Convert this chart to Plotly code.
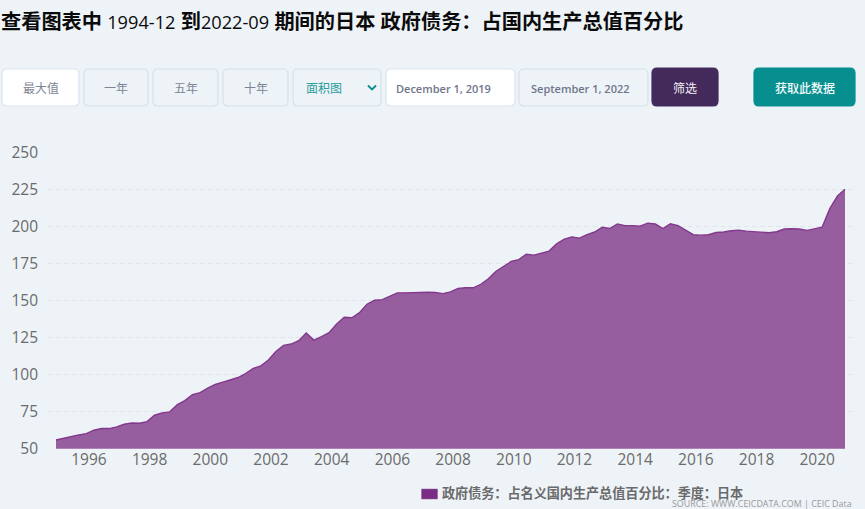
import pandas as pd
import plotly.graph_objects as go

W, H = 865, 509
BG = "#eef3f8"

values = [
    55.9, 57.0, 58.6, 59.3, 60.2, 62.5, 63.6, 63.6, 64.7, 66.5,
    67.4, 67.2, 68.3, 72.6, 74.2, 74.9, 79.8, 82.5, 86.6, 87.9,
    90.9, 93.4, 95.0, 96.3, 98.1, 100.8, 104.2, 106.0, 109.9, 115.7,
    119.8, 120.7, 123.0, 128.2, 123.4, 125.7, 128.4, 134.3, 138.8, 138.5,
    141.9, 147.6, 150.3, 150.7, 153.2, 155.3, 155.3, 155.5, 156.0, 155.7,
    155.5, 154.8, 156.0, 158.2, 158.7, 158.7, 161.1, 164.8, 169.9, 173.3,
    176.5, 177.8, 181.4, 180.8, 182.1, 183.5, 188.5, 191.6, 193.0, 192.3,
    194.6, 196.4, 199.7, 198.8, 201.9, 200.7, 200.7, 200.4, 202.4, 201.8,
    198.8, 202.0, 200.7, 197.7, 194.6, 194.3, 194.6, 196.1, 196.4, 197.3,
    197.7, 197.0, 196.8, 196.4, 195.9, 196.6, 198.4, 198.6, 198.4, 197.5,
    198.4, 199.7, 212.2, 220.7, 225.3,
]
dates = pd.date_range("1994-12-01", periods=len(values), freq="3MS")
y_ticks = [50, 75, 100, 125, 150, 175, 200, 225, 250]
series_name = "政府债务：占名义国内生产总值百分比：季度：日本"
LAT = '<span style="font-size:18.2px">'
title_html = (f"<b>查看图表中</b> {LAT}1994-12</span> <b>到</b>{LAT}2022-09</span> "
              "<b>期间的日本 政府债务：占国内生产总值百分比</b>")
source_text = "SOURCE: WWW.CEICDATA.COM | CEIC Data"

CJK = "Open Sans, Noto Sans CJK SC, sans-serif"


def px(x):
    return x / W


def py(y):
    return 1 - y / H


def rounded(x0, y0, x1, y1, r=5):
    X0, X1, Y0, Y1 = px(x0), px(x1), py(y0), py(y1)
    rx, ry = r / W, r / H
    return (
        f"M {X0+rx},{Y0} L {X1-rx},{Y0} Q {X1},{Y0} {X1},{Y0-ry} "
        f"L {X1},{Y1+ry} Q {X1},{Y1} {X1-rx},{Y1} L {X0+rx},{Y1} "
        f"Q {X0},{Y1} {X0},{Y1+ry} L {X0},{Y0-ry} Q {X0},{Y0} {X0+rx},{Y0} Z"
    )


# label, x0, x1, y0, y1, fill, border, text colour, text centre x, size, weight
controls = [
    ("最大值", 2, 79, 69, 106, "#ffffff", "#d9e5ee", "#7d8594", 40.5, 12, 400),
    ("一年", 84, 148, 69, 106, BG, "#d5e2ea", "#7d8594", 116.5, 12, 400),
    ("五年", 153, 218, 69, 106, BG, "#d5e2ea", "#7d8594", 186, 12, 400),
    ("十年", 223, 288, 69, 106, BG, "#d5e2ea", "#7d8594", 256, 12, 400),
    ("面积图", 293, 381, 69, 106, BG, "#d5e2ea", "#2a9c9c", 324, 12, 400),
    ("December 1, 2019", 386, 515, 69, 106, "#ffffff", "#d9e5ee", "#6f768a", 444, 11, 600),
    ("September 1, 2022", 519, 648, 69, 106, BG, "#d5e2ea", "#6f768a", 580, 11, 600),
    ("筛选", 652, 718, 68, 106, "#432a5b", "#432a5b", "#f2eef6", 685, 12, 400),
    ("获取此数据", 754, 855, 68, 106, "#078e8f", "#078e8f", "#f2fafa", 804.5, 12, 500),
]

shapes, annotations = [], []
for label, x0, x1, y0, y1, fill, border, tc, cx, size, weight in controls:
    shapes.append(dict(type="path", path=rounded(x0, y0, x1, y1), xref="paper", yref="paper",
                       fillcolor=fill, line=dict(color=border, width=1.2), layer="below"))
    annotations.append(dict(text=label, x=px(cx), y=py(88.5), xref="paper", yref="paper",
                            xanchor="center", yanchor="middle", showarrow=False,
                            font=dict(family=CJK, size=size, color=tc, weight=weight)))

# dropdown chevron
shapes.append(dict(type="path", xref="paper", yref="paper",
                   path=f"M {px(368)},{py(85.5)} L {px(372)},{py(89.5)} L {px(376)},{py(85.5)}",
                   line=dict(color="#078e8f", width=1.8)))
# legend swatch
shapes.append(dict(type="rect", xref="paper", yref="paper",
                   x0=px(421.5), x1=px(437.5), y0=py(499), y1=py(489),
                   fillcolor="#7b2d85", line=dict(color="#8f5a98", width=0.5)))
annotations.append(dict(text=f"<b>{series_name}</b>", x=px(439.5), y=py(493), xref="paper", yref="paper",
                        xanchor="left", yanchor="middle", showarrow=False,
                        font=dict(family=CJK, size=13.1, color="#6a6a6a")))
annotations.append(dict(text=source_text, x=px(854), y=py(503), xref="paper", yref="paper",
                        xanchor="right", yanchor="middle", showarrow=False,
                        font=dict(family=CJK, size=8.9, color="#999999")))

fig = go.Figure(go.Scatter(
    x=dates, y=values, mode="lines", name=series_name, fill="tozeroy",
    fillcolor="rgba(124,50,131,0.77)", line=dict(color="#84388c", width=1.4),
    showlegend=False, hoverinfo="x+y",
))

fig.update_layout(
    template=None,
    width=W, height=H, autosize=False,
    margin=dict(l=0, r=0, t=0, b=0, pad=0),
    paper_bgcolor=BG, plot_bgcolor=BG,
    title=dict(text=title_html, x=px(1), y=py(22), xref="paper", yref="paper",
               xanchor="left", yanchor="middle",
               font=dict(family=CJK, size=20.2, color="#0b0b0b")),
    shapes=shapes, annotations=annotations,
    xaxis=dict(type="date", domain=[px(48), px(853)], automargin=False,
               range=["1994-08-27", "2021-03-07"],
               tick0="1996-01-01", dtick="M24", tickformat="%Y",
               showgrid=False, zeroline=False, showline=False, ticks="",
               ticklabelstandoff=0,
               tickfont=dict(family="Open Sans", size=15.5, color="#6b6b6b")),
    yaxis=dict(domain=[py(448.7), py(152.7)], range=[50, 250], tickvals=y_ticks, automargin=False,
               showgrid=True, gridcolor="#e2e6ea", griddash="5px,3px", gridwidth=1,
               zeroline=False, showline=False, ticks="", ticklabelstandoff=9,
               tickfont=dict(family="Open Sans", size=15.5, color="#6b6b6b")),
)

fig.write_html("out.html", config={"displayModeBar": False},
               post_script="document.body.style.margin='0';document.body.style.overflow='hidden';document.body.style.background='#eef3f8';")
